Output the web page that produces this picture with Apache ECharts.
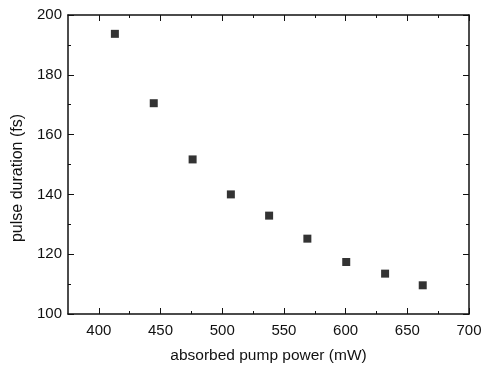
<!DOCTYPE html>
<html>
<head>
<meta charset="utf-8">
<script src="https://cdn.jsdelivr.net/npm/echarts@6/dist/echarts.min.js"></script>
<style>
html,body{margin:0;padding:0;background:#fff;}
#c{width:488px;height:366px;}
</style>
</head>
<body>
<div id="c"></div>
<script>
// Data
var pumpPower = [413, 444.5, 476, 507, 538, 569, 600.5, 632, 662.5];
var pulseDuration = [193.7, 170.5, 151.7, 140.0, 132.9, 125.2, 117.4, 113.5, 109.6];
var xMajorTicks = [400, 450, 500, 550, 600, 650, 700];
var xMinorTicks = [425, 475, 525, 575, 625, 675];
var xName = 'absorbed pump power (mW)';
var yName = 'pulse duration (fs)';

var points = pumpPower.map(function (x, i) { return [x, pulseDuration[i]]; });

var ink = '#111';
var font = 'Liberation Sans, Arial, sans-serif';
var lineStyle = { color: ink, width: 1.5 };

function xAxisDef(pos, ticks, len, showLine, showLabel, withName) {
  var a = {
    type: 'value', position: pos, min: 375, max: 700,
    axisLine: { show: showLine, onZero: false, lineStyle: lineStyle },
    axisTick: { show: true, inside: true, length: len, customValues: ticks, lineStyle: { color: ink, width: 1 } },
    axisLabel: { show: showLabel, customValues: ticks, margin: 9, color: ink, fontSize: 15, fontFamily: font },
    splitLine: { show: false }
  };
  if (withName) {
    a.name = xName;
    a.nameLocation = 'middle';
    a.nameGap = 34;
    a.nameTextStyle = { color: ink, fontSize: 15.5, fontFamily: font };
  }
  return a;
}

function yAxisDef(pos, showLabel, withName) {
  var a = {
    type: 'value', position: pos, min: 100, max: 200, interval: 20,
    axisLine: { show: true, onZero: false, lineStyle: lineStyle },
    axisTick: { show: true, inside: true, length: 6, lineStyle: { color: ink, width: 1 } },
    minorTick: { show: true, splitNumber: 2, length: 3, lineStyle: { color: ink, width: 1 } },
    axisLabel: { show: showLabel, margin: 6, color: ink, fontSize: 15, fontFamily: font },
    splitLine: { show: false },
    minorSplitLine: { show: false }
  };
  if (withName) {
    a.name = yName;
    a.nameLocation = 'middle';
    a.nameGap = 37;
    a.nameTextStyle = { color: ink, fontSize: 16, fontFamily: font, padding: [0, 27, 0, 0] };
  }
  return a;
}

var chart = echarts.init(document.getElementById('c'), null, { renderer: 'canvas' });
chart.setOption({
  animation: false,
  backgroundColor: '#fff',
  grid: { left: 68, right: 19, top: 15, bottom: 52, containLabel: false, outerBoundsMode: 'none' },
  xAxis: [
    xAxisDef('bottom', xMajorTicks, 6, true, true, true),
    xAxisDef('bottom', xMinorTicks, 3, false, false, false),
    xAxisDef('top', xMajorTicks, 6, true, false, false),
    xAxisDef('top', xMinorTicks, 3, false, false, false)
  ],
  yAxis: [
    yAxisDef('left', true, true),
    yAxisDef('right', false, false)
  ],
  series: [{
    type: 'scatter',
    xAxisIndex: 0, yAxisIndex: 0,
    symbol: 'rect',
    symbolSize: 8,
    itemStyle: { color: '#000' },
    data: points
  }]
});
</script>
</body>
</html>
